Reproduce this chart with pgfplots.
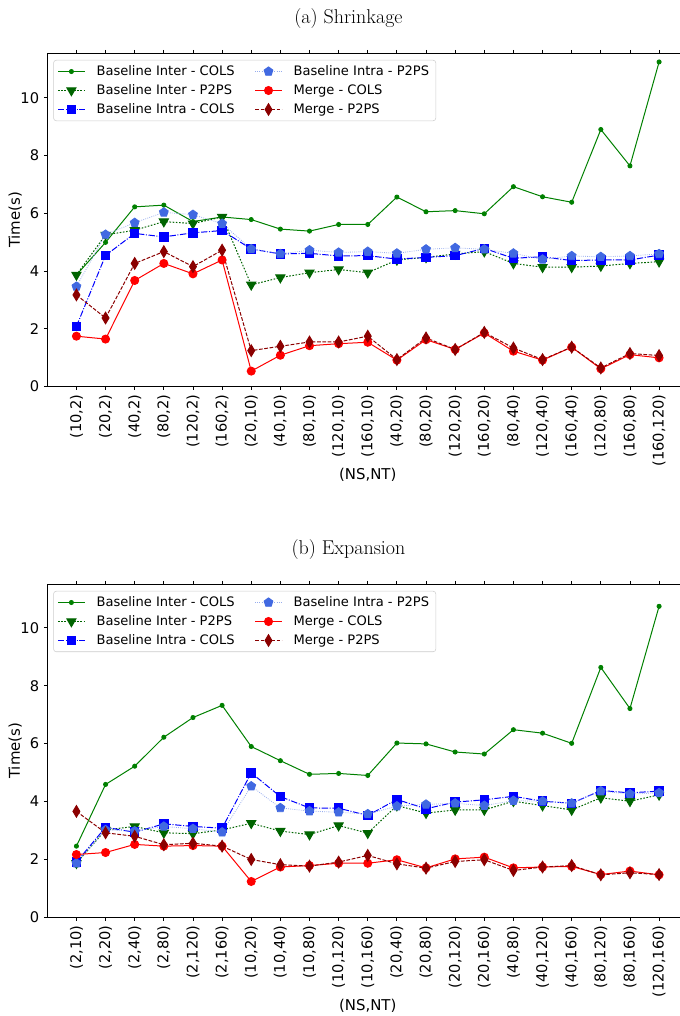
\documentclass[border=0pt]{standalone}
\usepackage{fontspec}
\usepackage{pgfplots}
\pgfplotsset{compat=1.18}
\usepackage{pgfplotstable}
\newfontfamily\mpl{DejaVu Sans}

\definecolor{mplgreen}{HTML}{008000}
\definecolor{mpldarkgreen}{HTML}{006400}
\definecolor{mplblue}{HTML}{0000FF}
\definecolor{royalblue}{HTML}{4169E1}
\definecolor{mplred}{HTML}{FF0000}
\definecolor{darkred}{HTML}{8B0000}

% columns: a = Baseline Inter COLS, b = Baseline Inter P2PS,
%          c = Baseline Intra COLS, d = Baseline Intra P2PS,
%          e = Merge COLS,          f = Merge P2PS
\pgfplotstableread{
x a b c d e f
0 3.86 3.86 2.08 3.46 1.74 3.17
1 4.99 5.25 4.54 5.26 1.64 2.37
2 6.22 5.41 5.30 5.67 3.67 4.26
3 6.28 5.71 5.18 6.03 4.26 4.67
4 5.71 5.64 5.32 5.95 3.90 4.15
5 5.87 5.87 5.40 5.64 4.38 4.72
6 5.78 3.52 4.76 4.76 0.53 1.24
7 5.45 3.77 4.59 4.59 1.08 1.39
8 5.38 3.94 4.61 4.72 1.41 1.54
9 5.61 4.05 4.52 4.64 1.48 1.54
10 5.61 3.94 4.53 4.67 1.53 1.74
11 6.56 4.38 4.41 4.61 0.91 0.93
12 6.05 4.47 4.47 4.75 1.62 1.68
13 6.09 4.59 4.53 4.80 1.28 1.28
14 5.98 4.67 4.78 4.75 1.85 1.87
15 6.92 4.26 4.44 4.61 1.22 1.33
16 6.57 4.13 4.49 4.40 0.91 0.93
17 6.38 4.13 4.36 4.52 1.36 1.36
18 8.90 4.17 4.38 4.49 0.61 0.64
19 7.64 4.26 4.38 4.52 1.10 1.14
20 11.24 4.32 4.55 4.59 0.99 1.07
}\shrinkage

\pgfplotstableread{
x a b c d e f
0 2.46 1.87 1.91 1.87 2.17 3.66
1 4.59 3.02 3.11 3.02 2.24 2.92
2 5.22 3.14 2.94 2.98 2.52 2.80
3 6.22 2.92 3.23 3.14 2.46 2.51
4 6.90 2.89 3.14 3.06 2.48 2.56
5 7.32 3.02 3.08 2.94 2.46 2.46
6 5.90 3.25 4.99 4.53 1.24 2.00
7 5.41 2.98 4.17 3.78 1.74 1.82
8 4.94 2.86 3.78 3.67 1.79 1.77
9 4.97 3.17 3.77 3.63 1.87 1.91
10 4.90 2.91 3.52 3.57 1.87 2.14
11 6.02 3.86 4.07 3.84 1.99 1.85
12 5.99 3.60 3.75 3.90 1.71 1.70
13 5.71 3.71 3.98 3.94 2.02 1.93
14 5.64 3.71 4.06 3.86 2.08 1.99
15 6.48 4.01 4.18 4.03 1.71 1.62
16 6.36 3.86 4.01 4.01 1.74 1.74
17 6.01 3.71 3.94 3.94 1.76 1.79
18 8.63 4.13 4.38 4.36 1.48 1.47
19 7.21 4.01 4.30 4.26 1.60 1.54
20 10.74 4.23 4.36 4.30 1.47 1.48
}\expansion

\pgfplotsset{
  timeaxis/.style={
    scale only axis, width=481pt, height=250pt,
    xmin=-1, xmax=21, ymin=0,
    xtick={0,...,20}, ytick={0,2,...,10},
    tick align=outside, major tick length=2.6pt,
    tick style={black, line width=0.6pt},
    axis line style={line width=0.6pt},
    /pgf/number format/assume math mode=true,
    tick label style={font=\mpl\fontsize{11}{13}\selectfont},
    x tick label style={rotate=90, anchor=east},
    label style={font=\mpl\fontsize{11.2}{13}\selectfont},
    xlabel={(NS,NT)}, ylabel={Time(s)},
    xlabel style={at={(axis description cs:0.5,-0.265)}, anchor=center},
    ylabel style={at={(axis description cs:-0.0503,0.5)}, anchor=center},
    % three rows, filled column by column
    legend columns=3, transpose legend,
    legend cell align=left,
    legend style={at={(axis description cs:0.0094,0.98)}, anchor=north west,
      draw=black!20, rounded corners=2pt, fill=white,
      font=\mpl\fontsize{9.8}{11.5}\selectfont,
      nodes={inner sep=2pt}, row sep=1.3pt,
      /tikz/every odd column/.append style={column sep=6.5pt},
      /tikz/every even column/.append style={column sep=13pt}},
    legend image code/.code={%
      \draw[mark repeat=2,mark phase=2,##1]
        plot coordinates {(0pt,0pt) (10pt,0pt) (20pt,0pt)};},
  },
  interCols/.style={color=mplgreen, solid, line width=0.75pt,
    mark=*, mark size=1.5pt},
  interP2ps/.style={color=mpldarkgreen, line width=0.75pt,
    dash pattern=on 1.2pt off 1.2pt,
    mark=triangle*, mark size=3.9pt, mark options={solid, rotate=180}},
  intraCols/.style={color=mplblue, line width=0.75pt,
    dash pattern=on 4.8pt off 1.2pt on 0.75pt off 1.2pt,
    mark=square*, mark size=3.2pt, mark options={solid}},
  intraP2ps/.style={color=royalblue!55, line width=0.6pt, densely dotted,
    mark=pentagon*, mark size=3.5pt,
    mark options={solid, draw=royalblue, fill=royalblue}},
  mergeCols/.style={color=mplred, solid, line width=0.75pt,
    mark=*, mark size=3pt},
  mergeP2ps/.style={color=darkred, line width=0.75pt,
    dash pattern=on 2.8pt off 1.2pt,
    mark=diamond*, mark size=4.3pt, mark options={solid, xscale=0.8}},
}

\begin{document}
\begin{tikzpicture}
% (a) Shrinkage
\begin{axis}[timeaxis, at={(0,0)}, anchor=south west, ymax=11.54,
  xticklabels={{(10,2)},{(20,2)},{(40,2)},{(80,2)},{(120,2)},{(160,2)},
    {(20,10)},{(40,10)},{(80,10)},{(120,10)},{(160,10)},
    {(40,20)},{(80,20)},{(120,20)},{(160,20)},
    {(80,40)},{(120,40)},{(160,40)},{(120,80)},{(160,80)},{(160,120)}}]
\addplot[interCols] table[x=x,y=a] {\shrinkage};
\addlegendentry{Baseline Inter - COLS}
\addplot[interP2ps] table[x=x,y=b] {\shrinkage};
\addlegendentry{Baseline Inter - P2PS}
\addplot[intraCols] table[x=x,y=c] {\shrinkage};
\addlegendentry{Baseline Intra - COLS}
\addplot[intraP2ps] table[x=x,y=d] {\shrinkage};
\addlegendentry{Baseline Intra - P2PS}
\addplot[mergeCols] table[x=x,y=e] {\shrinkage};
\addlegendentry{Merge - COLS}
\addplot[mergeP2ps] table[x=x,y=f] {\shrinkage};
\addlegendentry{Merge - P2PS}
\end{axis}

% (b) Expansion
\begin{axis}[timeaxis, at={(0,-148.5pt)}, anchor=north west, ymax=11.5,
  xticklabels={{(2,10)},{(2,20)},{(2,40)},{(2,80)},{(2,120)},{(2,160)},
    {(10,20)},{(10,40)},{(10,80)},{(10,120)},{(10,160)},
    {(20,40)},{(20,80)},{(20,120)},{(20,160)},
    {(40,80)},{(40,120)},{(40,160)},{(80,120)},{(80,160)},{(120,160)}}]
\addplot[interCols] table[x=x,y=a] {\expansion};
\addlegendentry{Baseline Inter - COLS}
\addplot[interP2ps] table[x=x,y=b] {\expansion};
\addlegendentry{Baseline Inter - P2PS}
\addplot[intraCols] table[x=x,y=c] {\expansion};
\addlegendentry{Baseline Intra - COLS}
\addplot[intraP2ps] table[x=x,y=d] {\expansion};
\addlegendentry{Baseline Intra - P2PS}
\addplot[mergeCols] table[x=x,y=e] {\expansion};
\addlegendentry{Merge - COLS}
\addplot[mergeP2ps] table[x=x,y=f] {\expansion};
\addlegendentry{Merge - P2PS}
\end{axis}

\node[anchor=base, font=\fontsize{15}{18}\selectfont] at (226pt,272.5pt) {(a) Shrinkage};
\node[anchor=base, font=\fontsize{15}{18}\selectfont] at (226pt,-126pt) {(b) Expansion};

\pgfresetboundingbox
\path[use as bounding box] (-35.5pt,-472.5pt) rectangle (474.5pt,290pt);
\end{tikzpicture}
\end{document}
